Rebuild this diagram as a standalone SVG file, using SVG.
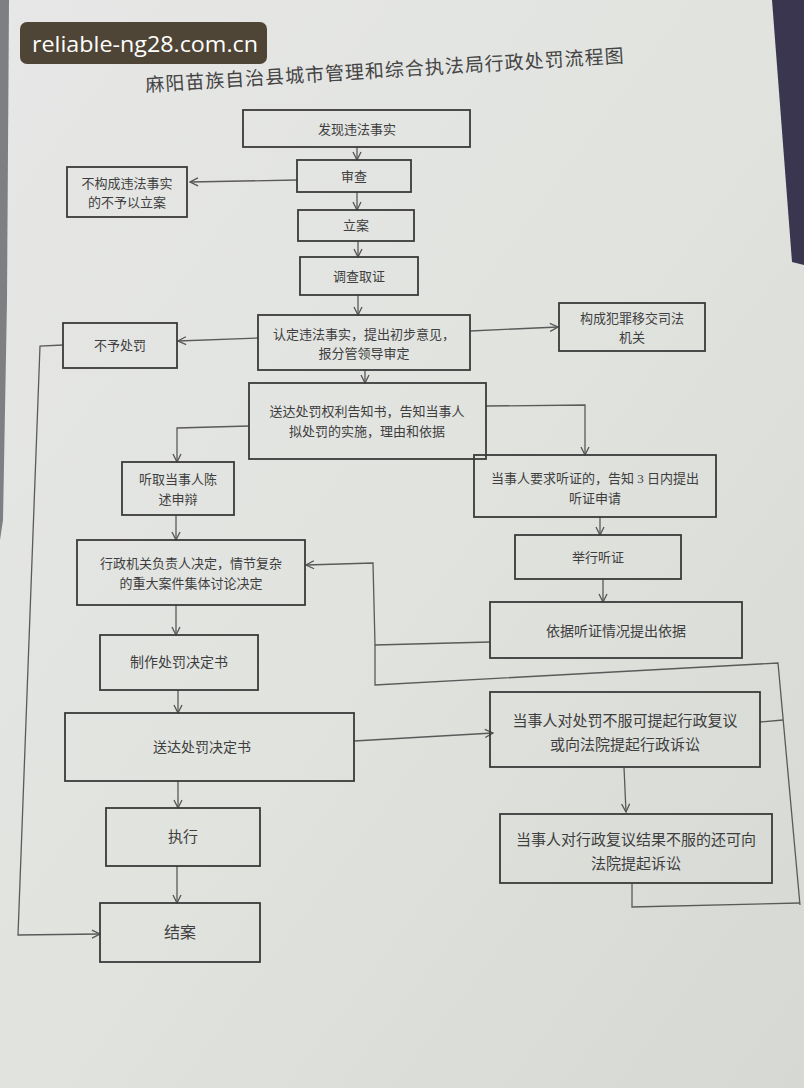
<svg xmlns="http://www.w3.org/2000/svg" width="804" height="1088" viewBox="0 0 804 1088">
<defs>
<marker id="ah" viewBox="0 0 10 10" refX="9" refY="5" markerWidth="10" markerHeight="10" markerUnits="userSpaceOnUse" orient="auto">
<path d="M1,1 L9,5 L1,9" fill="none" stroke="#555" stroke-width="1.3"/>
</marker>
<linearGradient id="paper" x1="0" y1="0" x2="1" y2="1">
<stop offset="0" stop-color="#e6e7e6"/>
<stop offset="0.5" stop-color="#e1e3df"/>
<stop offset="1" stop-color="#d6d8d3"/>
</linearGradient>
</defs>
<style>
.box{fill:none;stroke:#3a3a3a;stroke-width:1.8}
.t{font-family:"Liberation Serif","Noto Sans CJK SC",serif;fill:#3e3e3e;text-anchor:middle;font-size:13px}
.c{fill:none;stroke:#5a5a5a;stroke-width:1.3}
.ca{fill:none;stroke:#5a5a5a;stroke-width:1.3;marker-end:url(#ah)}
</style>
<rect x="0" y="0" width="804" height="1088" fill="url(#paper)"/>
<polygon points="0,0 9,0 7,300 3,520 0,540" fill="#7e7f82"/>
<polygon points="772,0 804,0 804,265 792,262" fill="#3b3650"/>
<g id="watermark">
<rect x="20" y="22" width="247" height="42" rx="7" fill="#4f4536"/>
<text x="32" y="52" font-family="'Open Sans','Noto Sans',sans-serif" font-size="22" fill="#ffffff" textLength="226" lengthAdjust="spacingAndGlyphs">reliable-ng28.com.cn</text>
</g>
<text x="385" y="77" transform="rotate(-3.5 385 72)" font-family="'Liberation Serif','Noto Sans CJK SC',serif" font-size="19" letter-spacing="1" fill="#444" text-anchor="middle">麻阳苗族自治县城市管理和综合执法局行政处罚流程图</text>
<g id="connectors">
<line class="ca" x1="357" y1="147" x2="357" y2="160"/>
<line class="ca" x1="297" y1="180" x2="190" y2="182"/>
<line class="ca" x1="357" y1="192" x2="357" y2="210"/>
<line class="ca" x1="358" y1="241" x2="358" y2="257"/>
<line class="ca" x1="358" y1="295" x2="358" y2="315"/>
<line class="ca" x1="258" y1="338" x2="178" y2="341"/>
<line class="ca" x1="470" y1="331" x2="558" y2="327"/>
<line class="ca" x1="365" y1="370" x2="365" y2="383"/>
<polyline class="ca" points="249,426 177,428 177,462"/>
<polyline class="ca" points="486,406 585,405 585,455"/>
<line class="ca" x1="176" y1="515" x2="176" y2="540"/>
<line class="ca" x1="600" y1="517" x2="600" y2="535"/>
<line class="ca" x1="603" y1="579" x2="603" y2="602"/>
<polyline class="ca" points="490,642 375,645 373,563 306,565"/>
<polyline class="c" points="375,645 375,685 778,663 800,905"/>
<line class="c" x1="760" y1="722" x2="783" y2="720"/>
<polyline class="c" points="632,883 632,907 800,903"/>
<line class="ca" x1="176" y1="605" x2="176" y2="635"/>
<line class="ca" x1="178" y1="690" x2="178" y2="713"/>
<line class="ca" x1="354" y1="741" x2="493" y2="733"/>
<line class="ca" x1="624" y1="767" x2="626" y2="812"/>
<line class="ca" x1="178" y1="781" x2="178" y2="808"/>
<line class="ca" x1="177" y1="866" x2="177" y2="903"/>
<polyline class="ca" points="63,345 40,346 18,935 100,934"/>
</g>
<g id="n1"><rect class="box" x="243" y="110" width="227" height="37"/><text class="t" x="357" y="134">发现违法事实</text></g>
<g id="n2"><rect class="box" x="297" y="160" width="114" height="32"/><text class="t" x="354" y="181">审查</text></g>
<g id="n3"><rect class="box" x="67" y="167" width="120" height="50"/><text class="t" x="127" y="188">不构成违法事实</text><text class="t" x="127" y="207">的不予以立案</text></g>
<g id="n4"><rect class="box" x="298" y="210" width="116" height="31"/><text class="t" x="356" y="230">立案</text></g>
<g id="n5"><rect class="box" x="300" y="257" width="118" height="38"/><text class="t" x="359" y="281">调查取证</text></g>
<g id="n6"><rect class="box" x="258" y="315" width="212" height="55"/><text class="t" x="364" y="339">认定违法事实，提出初步意见，</text><text class="t" x="364" y="358">报分管领导审定</text></g>
<g id="n7"><rect class="box" x="63" y="323" width="114" height="45"/><text class="t" x="120" y="350">不予处罚</text></g>
<g id="n8"><rect class="box" x="559" y="303" width="146" height="48"/><text class="t" x="632" y="323">构成犯罪移交司法</text><text class="t" x="632" y="342">机关</text></g>
<g id="n9"><rect class="box" x="249" y="383" width="237" height="76"/><text class="t" x="367" y="416">送达处罚权利告知书，告知当事人</text><text class="t" x="367" y="436">拟处罚的实施，理由和依据</text></g>
<g id="n10"><rect class="box" x="122" y="462" width="112" height="53"/><text class="t" x="178" y="484">听取当事人陈</text><text class="t" x="178" y="504">述申辩</text></g>
<g id="n11"><rect class="box" x="474" y="455" width="242" height="62"/><text class="t" x="595" y="483">当事人要求听证的，告知 3 日内提出</text><text class="t" x="595" y="503">听证申请</text></g>
<g id="n12"><rect class="box" x="515" y="535" width="166" height="44"/><text class="t" x="598" y="562">举行听证</text></g>
<g id="n13"><rect class="box" x="77" y="540" width="228" height="65"/><text class="t" x="191" y="568">行政机关负责人决定，情节复杂</text><text class="t" x="191" y="588">的重大案件集体讨论决定</text></g>
<g id="n14"><rect class="box" x="490" y="602" width="252" height="56"/><text class="t" x="616" y="636" style="font-size:14px">依据听证情况提出依据</text></g>
<g id="n15"><rect class="box" x="100" y="635" width="158" height="55"/><text class="t" x="179" y="667" style="font-size:14px">制作处罚决定书</text></g>
<g id="n16"><rect class="box" x="65" y="713" width="289" height="68"/><text class="t" x="202" y="752" style="font-size:14px">送达处罚决定书</text></g>
<g id="n17"><rect class="box" x="490" y="692" width="270" height="75"/><text class="t" x="625" y="726" style="font-size:15px">当事人对处罚不服可提起行政复议</text><text class="t" x="625" y="750" style="font-size:15px">或向法院提起行政诉讼</text></g>
<g id="n18"><rect class="box" x="106" y="808" width="154" height="58"/><text class="t" x="183" y="842" style="font-size:15px">执行</text></g>
<g id="n19"><rect class="box" x="500" y="814" width="272" height="69"/><text class="t" x="636" y="845" style="font-size:15px">当事人对行政复议结果不服的还可向</text><text class="t" x="636" y="869" style="font-size:15px">法院提起诉讼</text></g>
<g id="n20"><rect class="box" x="100" y="903" width="160" height="59"/><text class="t" x="180" y="938" style="font-size:16px">结案</text></g>
</svg>
